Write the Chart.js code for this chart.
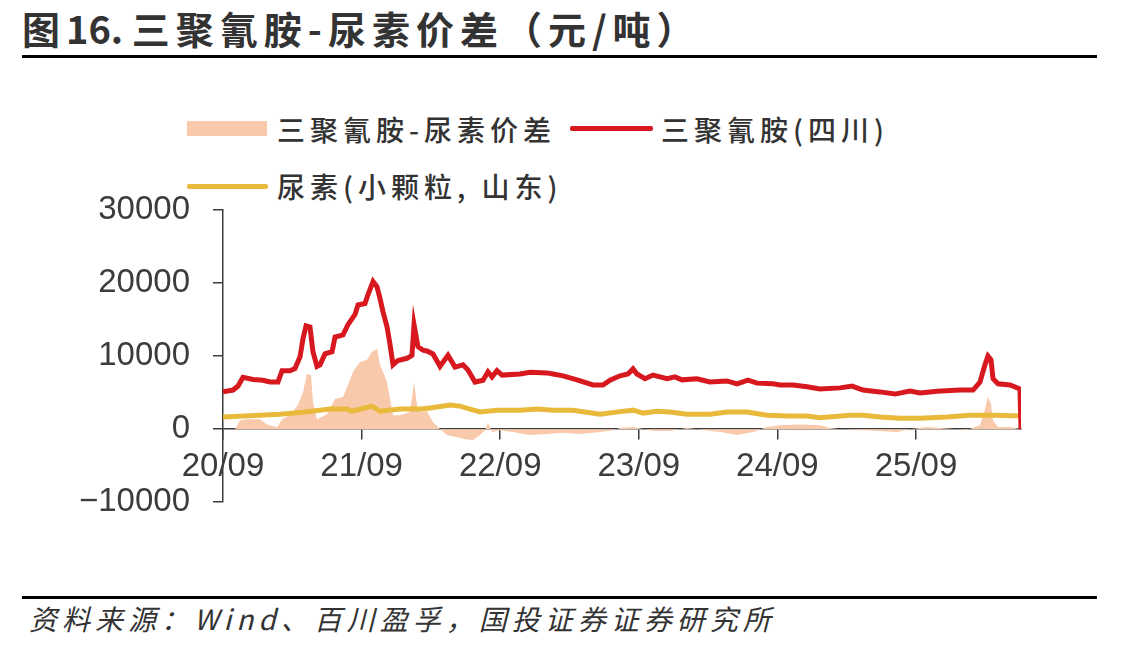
<!DOCTYPE html>
<html><head><meta charset="utf-8">
<script src="https://cdn.jsdelivr.net/npm/chart.js@4.4.1/dist/chart.umd.min.js"></script>
<style>
html,body{margin:0;padding:0;background:#fff;width:1147px;height:650px;overflow:hidden;position:relative;font-family:"Noto Sans CJK SC",sans-serif;}
#title{position:absolute;left:22px;top:9px;font-size:38px;font-weight:bold;letter-spacing:6px;color:#333;line-height:38px;white-space:nowrap;}
#title .n{letter-spacing:0;}
.rule{position:absolute;left:22px;width:1075px;background:#000;}
#rule1{top:55px;height:3px;}
#rule2{top:596px;height:3px;}
#src{position:absolute;left:29px;top:603px;font-size:28px;font-style:italic;color:#333;letter-spacing:5px;line-height:30px;white-space:nowrap;}
.lg{position:absolute;font-size:28px;color:#333;letter-spacing:5px;line-height:30px;white-space:nowrap;font-weight:500;}
.sw{position:absolute;}
#cv{position:absolute;left:0;top:150px;}
</style>
</head><body>
<div id="title">图<span class="n">16. </span>三聚氰胺-尿素价差（元/吨）</div>
<div class="rule" id="rule1"></div>
<div class="sw" style="left:187px;top:121px;width:80px;height:15px;background:#f8c9ab;"></div>
<div class="lg" style="left:277px;top:114px;">三聚氰胺-尿素价差</div>
<div class="sw" style="left:570px;top:126px;width:83px;height:5px;border-radius:2px;background:#d7191f;"></div>
<div class="lg" style="left:661px;top:114px;">三聚氰胺(四川)</div>
<div class="sw" style="left:187px;top:184px;width:81px;height:5px;border-radius:2px;background:#e8b93b;"></div>
<div class="lg" style="left:277px;top:171px;">尿素(小颗粒, 山东)</div>
<canvas id="cv" width="1147" height="395"></canvas>
<div class="rule" id="rule2"></div>
<div id="src">资料来源：Wind、百川盈孚，国投证券证券研究所</div>
<script>
// x values are months elapsed since 2020-09
const xTickLabels = ['20/09','21/09','22/09','23/09','24/09','25/09'];
const X_MAX = 69.09;

const redMonths = [0,0.87,1.3,1.73,2.6,3.46,4.07,4.76,5.11,5.8,6.23,6.67,6.93,7.19,7.53,7.79,8.14,8.4,8.83,9.44,9.7,10.39,10.82,11.43,11.69,12.29,12.55,12.99,13.33,13.59,13.85,14.2,14.46,14.72,15.15,15.93,16.36,16.54,16.88,17.32,17.66,18.18,18.79,19.48,20.09,20.78,21.21,21.82,22.51,22.94,23.29,23.72,24.16,25.71,26.58,28.05,28.57,29.44,30.65,32.03,32.9,33.51,34.37,35.06,35.5,35.84,36.54,37.23,38.44,39.13,39.74,41.04,42.16,43.64,44.5,45.45,46.23,47.62,48.23,49.35,50.56,51.69,53.42,54.46,55.41,56.88,58.18,59.48,60.35,61.82,63.81,64.94,65.54,65.97,66.23,66.49,66.67,67.1,68.14,69.0,69.09];
const redValues = [5100,5350,5900,7100,6800,6700,6450,6450,8000,8000,8300,9900,12400,14150,14000,10600,8600,8800,10300,10600,12600,12900,14300,15700,17000,17200,18400,20200,19500,17900,16100,14000,11600,8800,9400,9700,10100,14300,11300,10800,10700,10300,8600,10100,8500,8800,8100,6450,6700,7850,7150,8000,7400,7550,7800,7700,7550,7300,6750,6050,6050,6700,7300,7550,8250,7550,6900,7400,6900,7150,6750,6900,6450,6600,6200,6700,6300,6200,6050,6050,5800,5500,5650,5900,5350,5100,4800,5200,4950,5200,5350,5350,6450,8800,10000,9500,6900,6200,6050,5500,0];

const ureaMonths = [0,3.2,4.94,6.93,9.26,10.74,11.17,12.9,13.59,15.32,17.06,17.92,19.65,20.52,21.39,22.25,23.72,25.71,27.19,28.57,30.3,32.64,34.37,35.5,36.36,37.58,38.7,40.17,42.16,43.64,45.37,47.1,48.83,50.56,51.69,54.29,55.41,56.88,58.61,60.35,62.68,64.68,66.67,69.09];
const ureaValues = [1650,1900,2050,2300,2750,2750,2450,3150,2450,2750,2750,2900,3300,3150,2750,2350,2600,2600,2750,2600,2600,2050,2400,2600,2200,2450,2350,2050,2050,2350,2350,1900,1800,1800,1550,1900,1900,1650,1500,1500,1650,1900,1900,1800];

const spreadMonths = [0,1.04,1.47,2.08,3.2,3.81,4.68,5.11,5.8,6.49,6.93,7.27,7.62,7.79,8.14,9.0,9.7,10.39,10.82,11.26,11.86,12.47,12.9,13.33,13.59,13.85,14.2,14.46,14.72,15.32,16.19,16.54,16.8,17.06,17.66,18.18,18.79,19.39,20.26,21.13,21.65,22.25,22.68,22.94,23.29,23.98,25.11,26.58,28.05,29.44,30.91,32.64,33.77,34.37,35.5,37.23,38.7,40.17,41.56,43.03,44.5,45.89,47.1,48.23,49.96,51.69,52.55,53.42,55.15,56.88,58.35,59.48,60.95,62.68,64.42,65.54,65.97,66.23,66.49,66.67,67.1,68.14,69.0];
const spreadValues = [0,0,1200,1350,1350,650,250,1350,1900,3300,5100,7550,7400,3700,1350,2050,4150,4400,6050,7850,9200,9500,10600,11000,8800,7850,6450,4150,1900,1900,2350,6450,3300,2350,2500,950,0,-800,-1100,-1400,-1500,-800,-150,950,-400,-150,-400,-800,-650,-500,-650,-400,-150,150,300,-250,-250,150,-100,-400,-800,-400,300,550,650,550,150,0,-100,-250,-400,0,300,100,-100,550,2750,4400,3450,1200,300,300,0];

const pts = (xs, ys) => xs.map((x, i) => ({x: x, y: ys[i]}));
const axisColor = '#3c3c3c';
const tickFont = {family: '"Liberation Sans", Arial, sans-serif', size: 33};

new Chart(document.getElementById('cv'), {
  type: 'line',
  data: {
    datasets: [
      {label: '三聚氰胺(四川)', data: pts(redMonths, redValues), borderColor: '#d7191f', borderWidth: 5, pointRadius: 0, fill: false, order: 1},
      {label: '尿素(小颗粒, 山东)', data: pts(ureaMonths, ureaValues), borderColor: '#e8b93b', borderWidth: 5, pointRadius: 0, fill: false, order: 2},
      {label: '三聚氰胺-尿素价差', data: pts(spreadMonths, spreadValues), borderWidth: 0, borderColor: 'rgba(0,0,0,0)', backgroundColor: '#f8c9ab', pointRadius: 0, fill: 'origin', order: 3}
    ]
  },
  options: {
    responsive: false, animation: false, devicePixelRatio: 1,
    layout: {padding: {top: 60, right: 126, bottom: 20, left: 0}},
    plugins: {legend: {display: false}, tooltip: {enabled: false}},
    elements: {line: {tension: 0}, point: {radius: 0}},
    scales: {
      x: {
        type: 'linear', min: 0, max: X_MAX, position: {y: 0},
        ticks: {stepSize: 12, includeBounds: false, autoSkip: false, maxRotation: 0, minRotation: 0, padding: 8, color: axisColor, font: tickFont,
          callback: v => (v % 12 === 0 ? xTickLabels[v / 12] : '')},
        grid: {drawOnChartArea: false, drawTicks: true, tickLength: 10, color: axisColor, lineWidth: 1.5},
        border: {display: true, color: axisColor, width: 1.5}
      },
      y: {
        min: -10000, max: 30000, position: 'left',
        afterFit: s => { s.width = 223; },
        ticks: {stepSize: 10000, padding: 23, color: axisColor, font: tickFont,
          callback: v => (v < 0 ? '\u2212' + Math.abs(v) : String(v))},
        grid: {drawOnChartArea: false, drawTicks: true, tickLength: 10, color: axisColor, lineWidth: 1.5},
        border: {display: true, color: axisColor, width: 1.5}
      }
    }
  }
});
</script>
</body></html>
